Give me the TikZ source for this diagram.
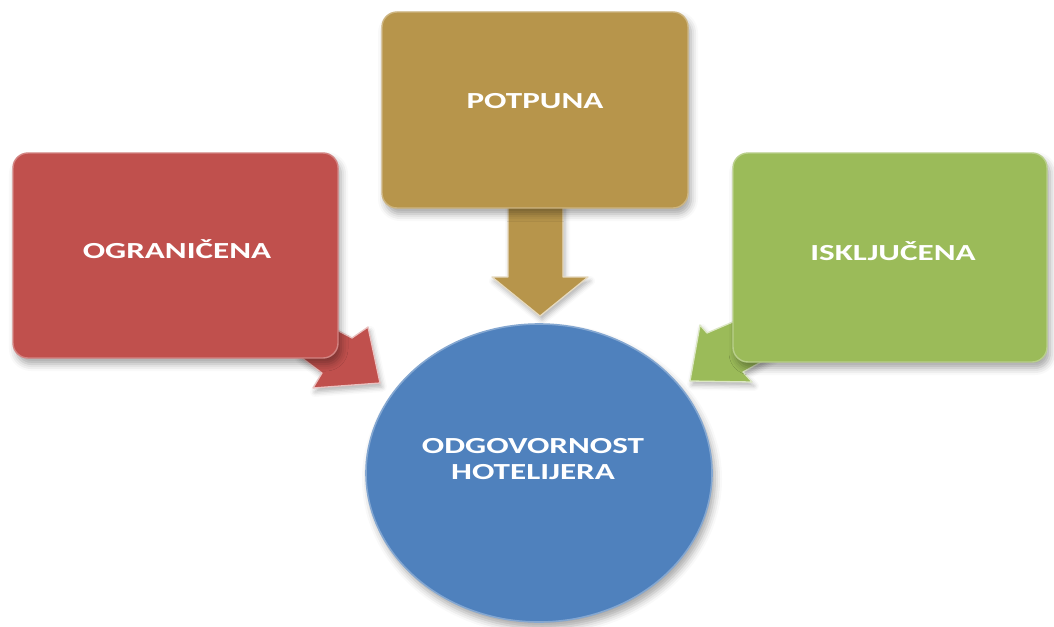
\documentclass[tikz,border=0pt]{standalone}
\usepackage{fontspec}
\usepackage{graphicx}
\newfontfamily\calib{Carlito}
\usetikzlibrary{shapes.geometric,shadows.blur}
\definecolor{cred}{HTML}{C0504D}
\definecolor{cgold}{HTML}{B7954B}
\definecolor{cgreen}{HTML}{9BBB59}
\definecolor{cblue}{HTML}{4F81BD}
\tikzset{
  callbox/.style={rectangle, rounded corners=15pt, inner sep=0pt,
    fill=#1, draw=#1!70!white, line width=1.4pt,
    blur shadow={shadow xshift=3pt, shadow yshift=-6pt, shadow opacity=35, shadow blur radius=7pt}},
  blockarrow/.style={fill=#1, draw=#1!35!white, line width=1.3pt, line join=round,
    blur shadow={shadow xshift=2pt, shadow yshift=-4pt, shadow opacity=30, shadow blur radius=5pt}},
  lbl/.style={text=white, font=\calib\bfseries\fontsize{23}{26}\selectfont, inner sep=0pt, align=center},
}
\newcommand{\wide}[1]{\scalebox{1.44}[1]{#1}}
\begin{document}
\begin{tikzpicture}[x=1pt,y=-1pt]
\useasboundingbox (0,0) rectangle (1054,626);
% block arrows (drawn under the boxes)
\draw[blockarrow=cred] (318,320) -- (352,338) -- (368,327) -- (380,383) -- (313,388) -- (322,373) -- (298,355) -- cycle;
\draw[blockarrow=cgold] (508,200) -- (508,277) -- (492,277) -- (540,316) -- (588,277) -- (563,277) -- (563,200) -- cycle;
\draw[blockarrow=cgreen] (742,318) -- (707,333) -- (700,325) -- (690,381) -- (752,382) -- (743,372) -- (772,356) -- cycle;
% boxes
\node[callbox=cred, minimum width=325pt, minimum height=205pt] (ogr) at (175.5,255.5) {};
\node[callbox=cgold, minimum width=306pt, minimum height=196pt] (pot) at (535,110) {};
\node[callbox=cgreen, minimum width=314pt, minimum height=209pt] (isk) at (890,257.5) {};
\node[ellipse, inner sep=0pt, fill=cblue, draw=cblue!70!white, line width=1.6pt,
  minimum width=346pt, minimum height=298pt,
  blur shadow={shadow xshift=3pt, shadow yshift=-6pt, shadow opacity=35, shadow blur radius=7pt}] (odg) at (539,473) {};
% labels
\node[lbl] (tOgr) at (177,249) {\wide{OGRANIČENA}};
\node[lbl] (tPot) at (535,101) {\wide{POTPUNA}};
\node[lbl] (tIsk) at (893,251) {\wide{ISKLJUČENA}};
\node[lbl] (tOdg) at (533,459) {\wide{ODGOVORNOST}\\\wide{HOTELIJERA}};
\end{tikzpicture}
\end{document}
